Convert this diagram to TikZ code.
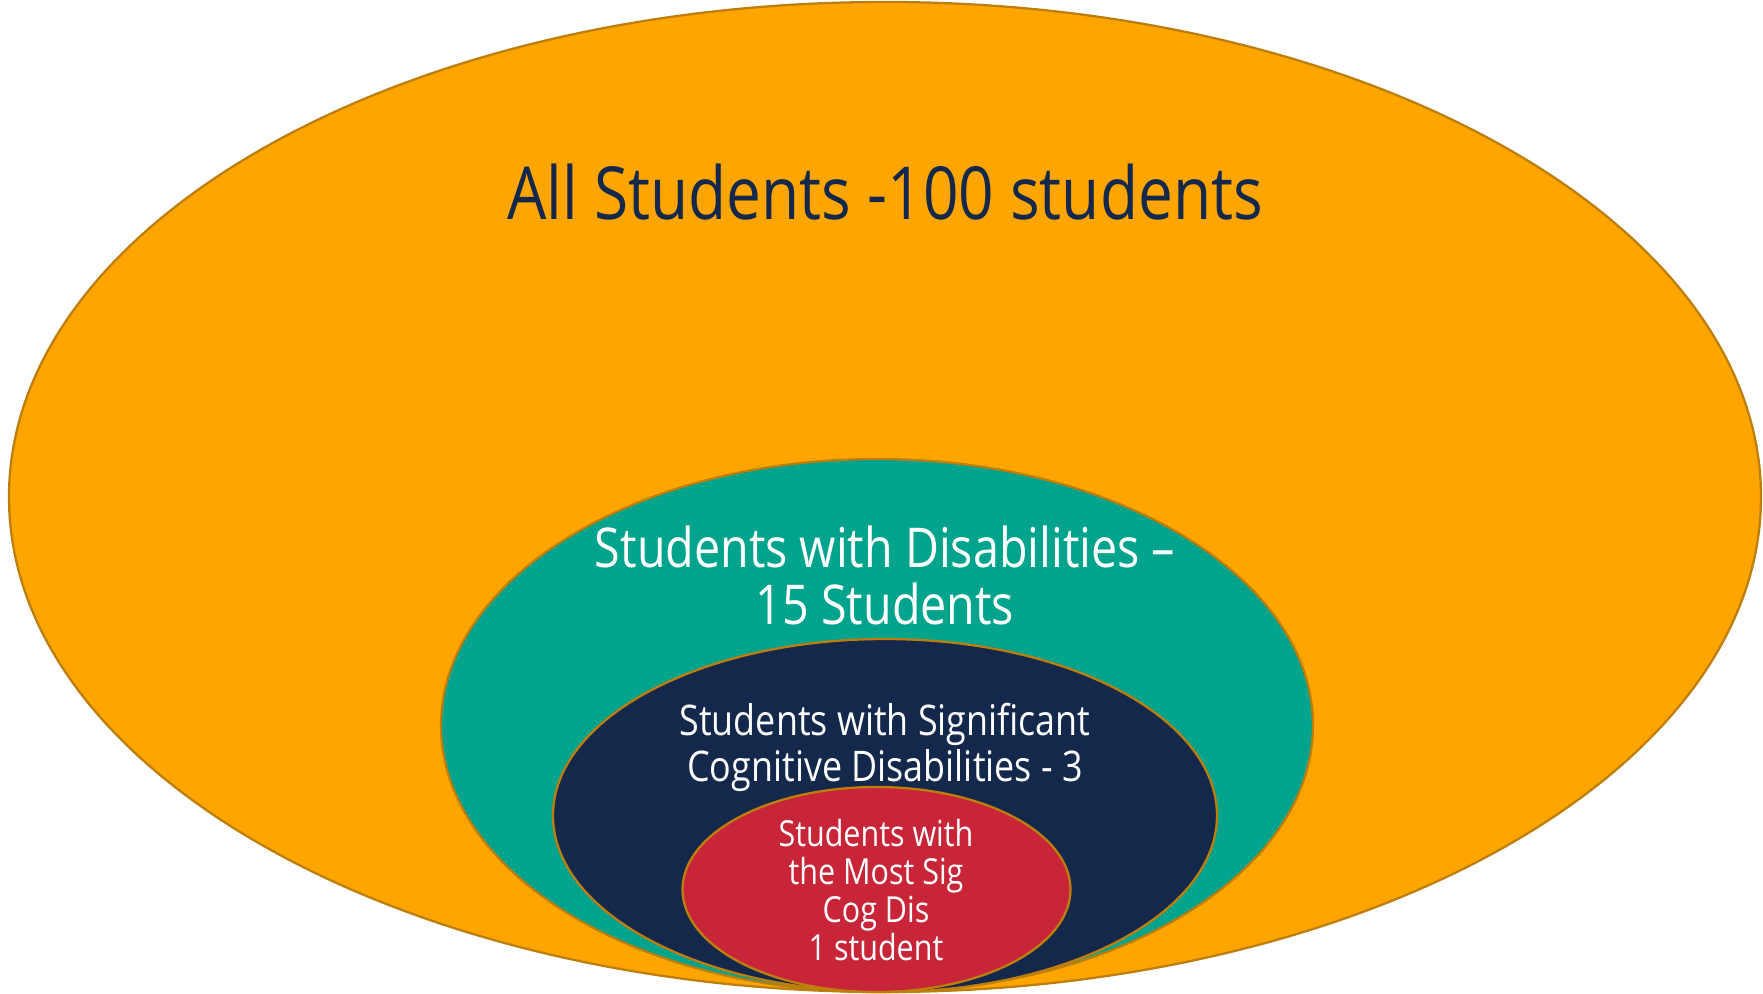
\documentclass[tikz,border=0pt]{standalone}
\usepackage{fontspec}
\setmainfont{Open Sans}[FakeStretch=0.85]
\usepackage{xcolor}
\definecolor{AllOrange}{HTML}{FFA500}
\definecolor{SwdTeal}{HTML}{00A38B}
\definecolor{ScdNavy}{HTML}{14284B}
\definecolor{MsdRed}{HTML}{C92538}
\definecolor{RimBrown}{HTML}{BD7E0C}
\tikzset{
  ring/.style={draw=RimBrown, line width=0.65pt},
  lbl/.style={align=center, anchor=base, inner sep=0pt}
}
\begin{document}
\begin{tikzpicture}[x=0.01cm, y=-0.01cm]
\useasboundingbox (0,0) rectangle (1763,994);
\draw[ring, fill=AllOrange] (885,497) ellipse [x radius=876, y radius=495];
\draw[ring, fill=SwdTeal] (877,725.5) ellipse [x radius=436, y radius=266.5];
\draw[ring, fill=ScdNavy] (885,815.5) ellipse [x radius=332, y radius=176.5];
\draw[ring, fill=MsdRed] (876.5,889.5) ellipse [x radius=194, y radius=102.5];
% labels sit on the baseline of their last line
\node[lbl, text=ScdNavy, font=\fontsize{20.8}{25}\selectfont] (all) at (885,219) {All Students -100 students};
\node[lbl, text=white, font=\fontsize{15.6}{16.2}\selectfont] (swd) at (885,624) {Students with Disabilities --\\15 Students};
\node[lbl, text=white, font=\fontsize{12}{12.8}\selectfont] (scd) at (885,781) {Students with Significant\\Cognitive Disabilities - 3};
\node[lbl, text=white, font=\fontsize{10.2}{10.8}\selectfont] (msd) at (876,960) {Students with\\the Most Sig\\Cog Dis\\1 student};
\end{tikzpicture}
\end{document}
